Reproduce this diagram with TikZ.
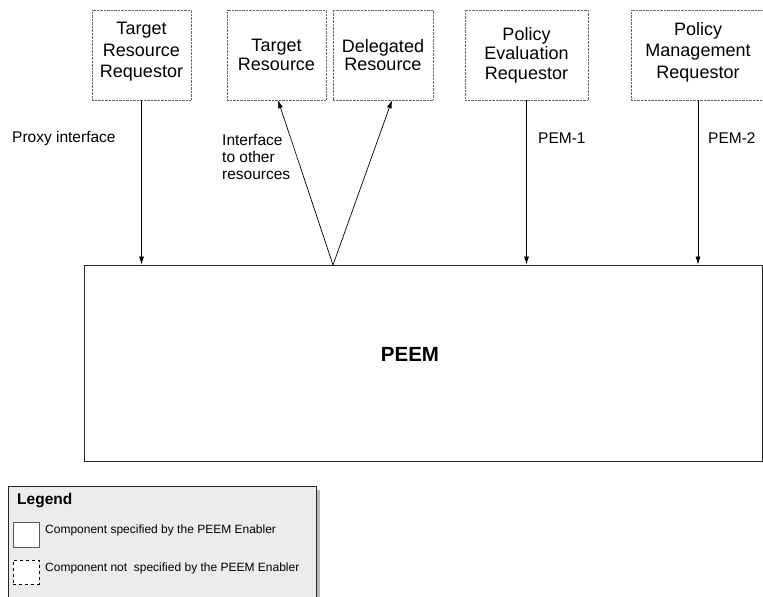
\documentclass[tikz,border=0pt]{standalone}
\usepackage{fontspec}
\setmainfont{Liberation Sans}
\usetikzlibrary{arrows.meta,shadows}
\newcommand{\boxfont}{\fontsize{18}{21.5}\selectfont}
\newcommand{\lblfont}{\fontsize{15.5}{17}\selectfont}

\tikzset{
  comp/.style={draw=gray!80!black, densely dotted, inner sep=0pt, align=center,
               minimum height=90pt, font=\boxfont},
  flow/.style={-{Latex[length=8pt,width=5pt]}, line width=0.7pt},
  lbl/.style={anchor=west, align=left, inner sep=0pt, font=\lblfont},
  keybox/.style={draw=gray!70!black, fill=white, inner sep=0pt,
                 minimum width=26pt, minimum height=25pt}
}

\begin{document}
\begin{tikzpicture}[x=1pt,y=1pt]
   \useasboundingbox (0,0) rectangle (763,597);
   % requestors and resources
   \node[comp, minimum width= 99pt, text depth=10pt] (trr) at (141.5,542) {Target\\Resource\\Requestor};
   \node[comp, minimum width= 99pt, font=\fontsize{18}{18.5}\selectfont] (tr)  at (276.5,542) {Target\\Resource};
   \node[comp, minimum width=100pt, font=\fontsize{18}{18.5}\selectfont] (dr)  at (383,542)   {Delegated\\Resource};
   \node[comp, minimum width=123pt, font=\fontsize{18}{19.5}\selectfont] (per) at (526.5,542) {Policy\\Evaluation\\Requestor};
   \node[comp, minimum width=134pt, text depth=10pt] (pmr) at (698,542)   {Policy\\Management\\Requestor};
   % the enabler
   \node[draw=gray!30!black, line width=0.9pt, minimum width=678pt, minimum height=196pt] (peem) at (423,234) {};
   \node[font=\fontsize{20.5}{24}\selectfont\bfseries] (peemtext) at (410,243) {PEEM};
   \coordinate (fork) at (333,332);
   % interfaces
   \draw[flow] (trr.south) -- (trr.south |- peem.north);
   \draw[flow] (fork) -- ([xshift=1.5pt]tr.south);
   \draw[flow] (fork) -- ([xshift=9pt]dr.south);
   \draw[flow] (per.south) -- (per.south |- peem.north);
   \draw[flow] (pmr.south) -- (pmr.south |- peem.north);
   \node[lbl] (proxy) at (12,459)  {Proxy interface};
   \node[lbl] (other) at (222,440) {Interface\\to other\\resources};
   \node[lbl] (pem1)  at (538,459) {PEM-1};
   \node[lbl] (pem2)  at (708,459) {PEM-2};
   % legend
   \node[draw=gray!30!black, fill=gray!15, minimum width=308pt, minimum height=119pt,
         drop shadow={shadow xshift=4pt, shadow yshift=-4pt, fill=gray!55, opacity=1}] (legend) at (162,51.5) {};
   \node[anchor=west, inner sep=0pt, font=\fontsize{15.5}{18}\selectfont\bfseries] (legtitle) at (17,96) {Legend};
   \node[keybox] (keysolid) at (26,62.5) {};
   \node[keybox, draw=black, dashed, minimum height=24pt] (keydash) at (26,25) {};
   \node[anchor=west, inner sep=0pt, font=\fontsize{12}{14}\selectfont] (keysolidtext) at (45,67) {Component specified by the PEEM Enabler};
   \node[anchor=west, inner sep=0pt, font=\fontsize{12}{14}\selectfont] (keydashtext)  at (45,29) {Component not \ specified by the PEEM Enabler};
\end{tikzpicture}
\end{document}
